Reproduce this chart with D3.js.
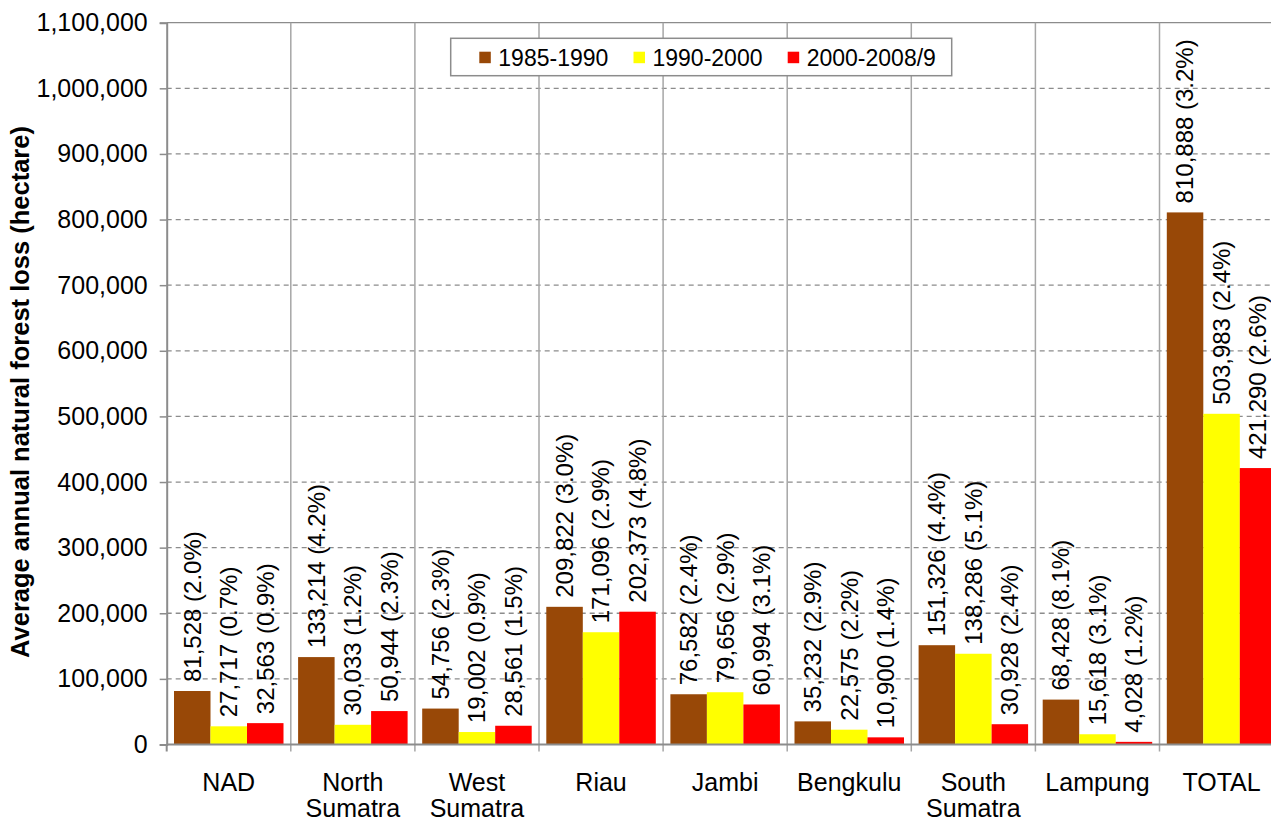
<!DOCTYPE html>
<html>
<head>
<meta charset="utf-8">
<script src="https://cdn.jsdelivr.net/npm/d3@7"></script>
<style>
  body { margin: 0; background: #fff; }
  text { font-family: "Liberation Sans", Arial, sans-serif; fill: #000; }
</style>
</head>
<body>
<div id="chart"></div>
<script>
// data
var categories = ["NAD", "North Sumatra", "West Sumatra", "Riau", "Jambi", "Bengkulu", "South Sumatra", "Lampung", "TOTAL"];
var seriesNames = ["1985-1990", "1990-2000", "2000-2008/9"];
var loss1985 = [81528, 133214, 54756, 209822, 76582, 35232, 151326, 68428, 810888];
var pct1985  = ["2.0", "4.2", "2.3", "3.0", "2.4", "2.9", "4.4", "8.1", "3.2"];
var loss1990 = [27717, 30033, 19002, 171096, 79656, 22575, 138286, 15618, 503983];
var pct1990  = ["0.7", "1.2", "0.9", "2.9", "2.9", "2.2", "5.1", "3.1", "2.4"];
var loss2000 = [32563, 50944, 28561, 202373, 60994, 10900, 30928, 4028, 421290];
var pct2000  = ["0.9", "2.3", "1.5", "4.8", "3.1", "1.4", "2.4", "1.2", "2.6"];
var yTicks = [0, 100000, 200000, 300000, 400000, 500000, 600000, 700000, 800000, 900000, 1000000, 1100000];
// the source prints this one label with a dot as separator
var labelOverride = {"TOTAL|2000-2008/9": "421.290 (2.6%)"};

var colors = {"1985-1990": "#984807", "1990-2000": "#FFFF00", "2000-2008/9": "#FF0000"};

var values = [loss1985, loss1990, loss2000];
var pcts = [pct1985, pct1990, pct2000];
var data = categories.map(function(c, i) {
  return {
    cat: c,
    bars: seriesNames.map(function(s, j) {
      return {cat: c, series: s, value: values[j][i], pct: pcts[j][i]};
    })
  };
});

var W = 1271, H = 819;
var margin = {top: 22.7, left: 166.7};
var plotW = 9 * 124.1, plotH = 744.5 - margin.top;

var svg = d3.select("#chart").append("svg")
    .attr("width", W)
    .attr("height", H);
var g = svg.append("g")
    .attr("transform", "translate(" + margin.left + "," + margin.top + ")");

var x = d3.scaleBand().domain(categories).range([0, plotW]);
var x1 = d3.scaleBand().domain(seriesNames).range([0, x.bandwidth()]).paddingOuter(0.2);
var y = d3.scaleLinear().domain([0, 1100000]).range([plotH, 0]);

// horizontal grid
g.selectAll(".hgrid")
  .data(yTicks.slice(1))
  .enter().append("line")
    .attr("x1", 0).attr("x2", plotW)
    .attr("y1", function(d) { return y(d); })
    .attr("y2", function(d) { return y(d); })
    .attr("stroke", "#8c8c8c")
    .attr("stroke-width", 1.3)
    .attr("stroke-dasharray", function(d) { return d === 1100000 ? null : "5,4"; });

// vertical category separators
g.selectAll(".vgrid")
  .data(categories.slice(1))
  .enter().append("line")
    .attr("x1", function(d) { return x(d); })
    .attr("x2", function(d) { return x(d); })
    .attr("y1", 0).attr("y2", plotH + 7)
    .attr("stroke", "#a6a6a6")
    .attr("stroke-width", 1.5);

// bars
var groups = g.selectAll(".grp")
  .data(data)
  .enter().append("g")
    .attr("transform", function(d) { return "translate(" + x(d.cat) + ",0)"; });

groups.selectAll("rect")
  .data(function(d) { return d.bars; })
  .enter().append("rect")
    .attr("x", function(d) { return x1(d.series); })
    .attr("width", x1.bandwidth())
    .attr("y", function(d) { return y(d.value); })
    .attr("height", function(d) { return plotH - y(d.value); })
    .attr("fill", function(d) { return colors[d.series]; });

// value labels
var fmt = d3.format(",");
groups.selectAll(".lbl")
  .data(function(d) { return d.bars; })
  .enter().append("text")
    .attr("transform", function(d) {
      return "translate(" + (x1(d.series) + x1.bandwidth() / 2) + "," + (y(d.value) - 9) + ") rotate(-90)";
    })
    .attr("dy", "0.35em")
    .style("font-size", "24px")
    .text(function(d) {
      return labelOverride[d.cat + "|" + d.series] || (fmt(d.value) + " (" + d.pct + "%)");
    });

// y axis
var yAxis = g.append("g")
  .call(d3.axisLeft(y).tickValues(yTicks).tickFormat(d3.format(",")).tickSize(7).tickPadding(12));
yAxis.select(".domain").attr("stroke", "#8c8c8c").attr("stroke-width", 2);
yAxis.selectAll(".tick line").attr("stroke", "#8c8c8c").attr("stroke-width", 1.5);
yAxis.selectAll(".tick text").style("font-size", "25px").style("font-family", "Liberation Sans, Arial, sans-serif");

// x axis line + ticks at category boundaries
g.append("line")
  .attr("x1", 0).attr("x2", plotW)
  .attr("y1", plotH).attr("y2", plotH)
  .attr("stroke", "#8c8c8c").attr("stroke-width", 2);
g.append("line")
  .attr("x1", 0).attr("x2", 0)
  .attr("y1", plotH).attr("y2", plotH + 7)
  .attr("stroke", "#8c8c8c").attr("stroke-width", 2);

// category labels (two-word names wrap)
g.selectAll(".cat")
  .data(categories)
  .enter().append("text")
    .attr("x", function(d) { return x(d) + x.bandwidth() / 2; })
    .attr("y", plotH + 47)
    .attr("text-anchor", "middle")
    .style("font-size", "25px")
    .each(function(d) {
      var words = d.split(" ");
      d3.select(this).selectAll("tspan")
        .data(words)
        .enter().append("tspan")
          .attr("x", x(d) + x.bandwidth() / 2)
          .attr("dy", function(w, i) { return i === 0 ? 0 : 26; })
          .text(function(w) { return w; });
    });

// y axis title
svg.append("text")
  .attr("transform", "translate(20," + 392 + ") rotate(-90)")
  .attr("text-anchor", "middle")
  .attr("dy", "0.35em")
  .style("font-size", "25.5px")
  .style("font-weight", "bold")
  .text("Average annual natural forest loss (hectare)");

// legend
var legend = svg.append("g").attr("transform", "translate(450.7,38.3)");
legend.append("rect")
  .attr("width", 501).attr("height", 37.4)
  .attr("fill", "#fff")
  .attr("stroke", "#8c8c8c").attr("stroke-width", 1.5);
var items = legend.selectAll(".item")
  .data(seriesNames)
  .enter().append("g")
    .attr("transform", function(d, i) { return "translate(" + (28.6 + i * 154.2) + ",0)"; });
items.append("rect")
  .attr("y", 13.4).attr("width", 11.5).attr("height", 11.5)
  .attr("fill", function(d) { return colors[d]; });
items.append("text")
  .attr("x", 19)
  .attr("y", 27.5)
  .style("font-size", "23px")
  .text(function(d) { return d; });
</script>
</body>
</html>
